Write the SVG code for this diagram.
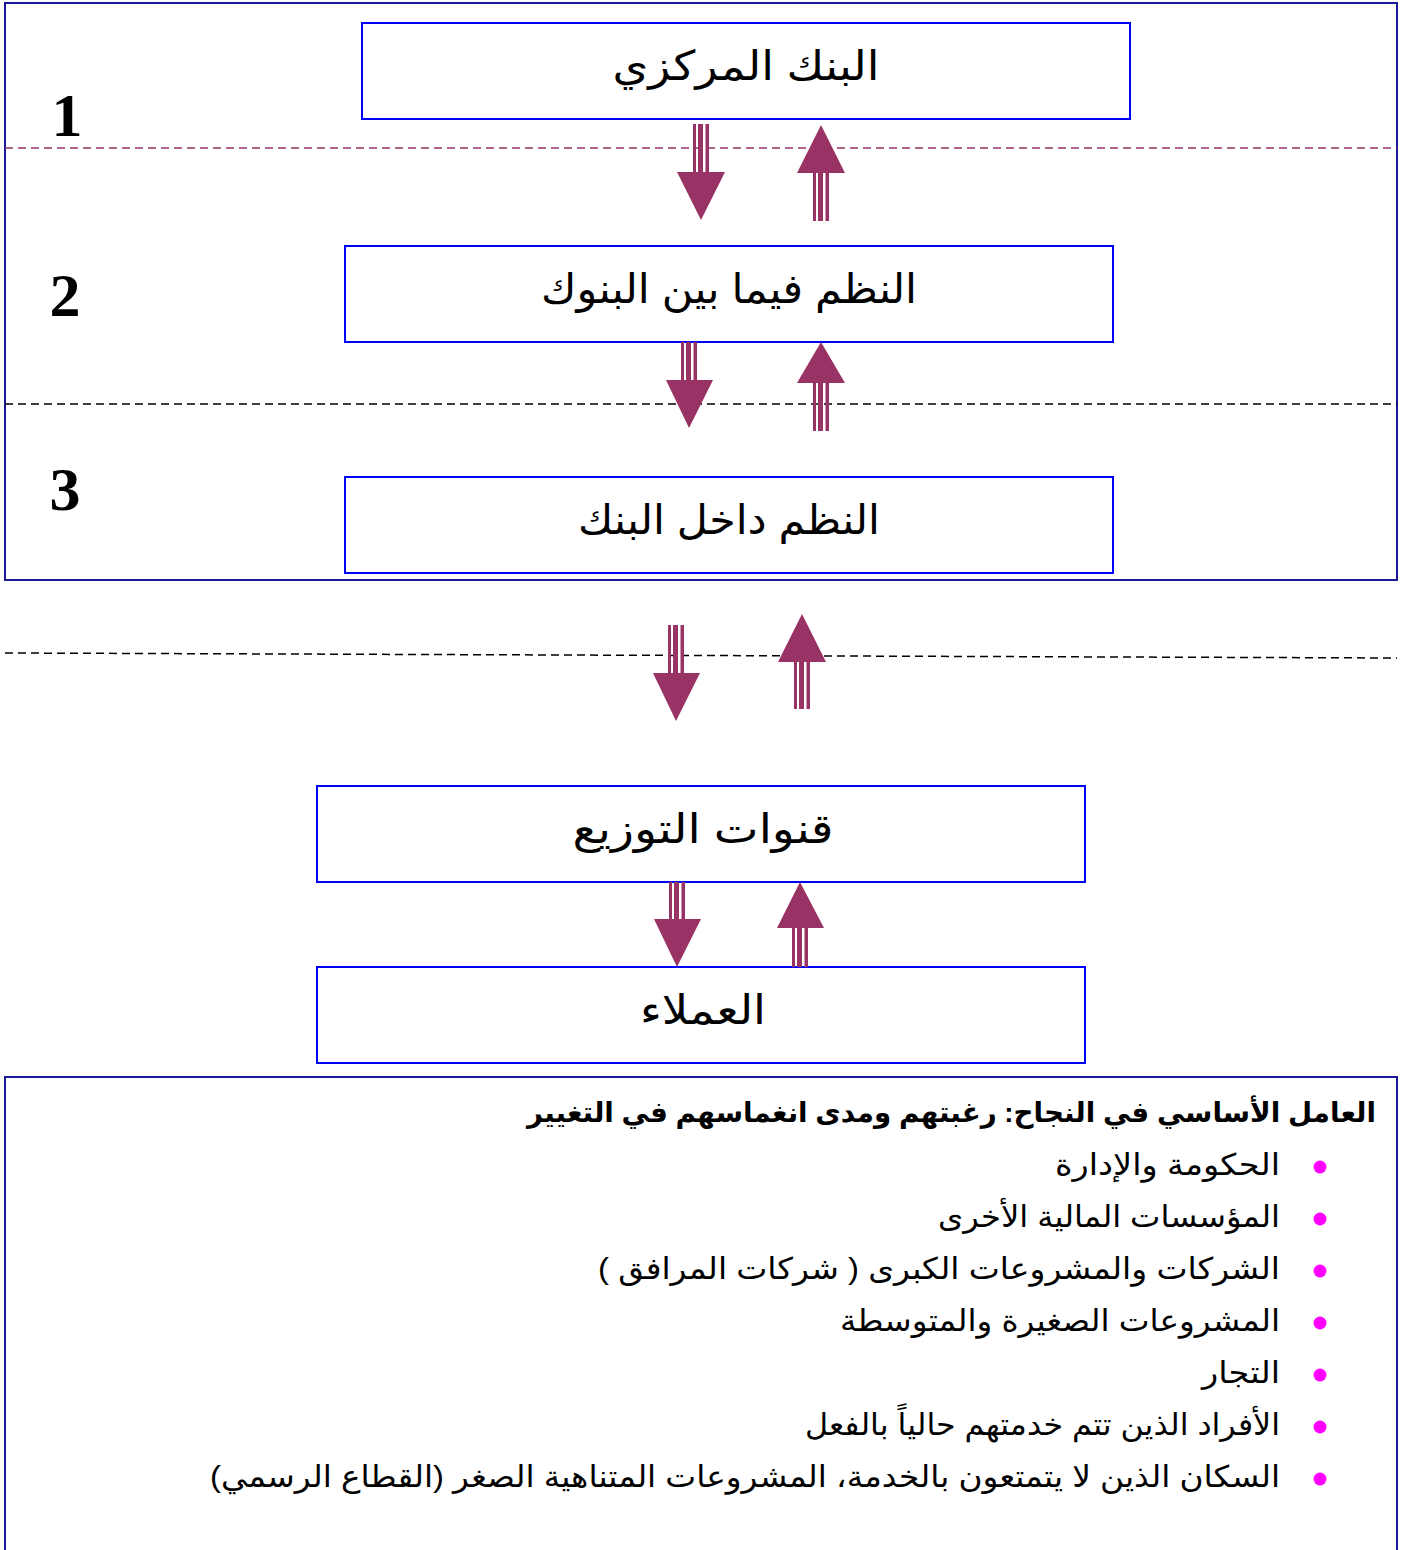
<svg xmlns="http://www.w3.org/2000/svg" width="1405" height="1550" viewBox="0 0 1405 1550">
<style>
.frame{fill:none;stroke:#1a1a99;stroke-width:2}
.box{fill:#fff;stroke:#0000ff;stroke-width:2}
.lbl{font-family:"Liberation Sans","DejaVu Sans",sans-serif;font-size:41px;fill:#000;text-anchor:middle}
.num{font-family:"Liberation Serif",serif;font-weight:bold;font-size:62px;fill:#000;text-anchor:middle}
.item{font-family:"Liberation Sans","DejaVu Sans",sans-serif;font-size:30px;fill:#000}
.title{font-family:"Liberation Sans","DejaVu Sans",sans-serif;font-size:28px;font-weight:bold;fill:#000}
.arr{fill:#993366}
.dot{fill:#ff00ff}
</style>
<defs>
<g id="shaft">
<rect x="0" y="0" width="3" height="1" class="arr"/>
<rect x="5" y="0" width="5" height="1" class="arr"/>
<rect x="12.5" y="0" width="3.5" height="1" class="arr"/>
</g>
</defs>
<rect x="0" y="0" width="1405" height="1550" fill="#fff"/>
<rect class="frame" x="5" y="3" width="1392" height="577"/>
<rect class="frame" x="5" y="1077" width="1392" height="480"/>

<g id="guides">
<line x1="5" y1="148" x2="1397" y2="148" stroke="#993366" stroke-width="1.6" stroke-dasharray="8,5"/>
<line x1="5" y1="404" x2="1397" y2="404" stroke="#000" stroke-width="1.5" stroke-dasharray="8,5"/>
<line x1="5" y1="653" x2="1397" y2="658" stroke="#000" stroke-width="1.5" stroke-dasharray="8,5"/>
</g>

<g id="levels">
<text class="num" x="67" y="136">1</text>
<text class="num" x="65" y="316">2</text>
<text class="num" x="65" y="510">3</text>
</g>

<g id="n1"><rect class="box" x="362" y="23" width="768" height="96"/><text class="lbl" x="746" y="80" textLength="267" lengthAdjust="spacingAndGlyphs">البنك المركزي</text></g>
<g id="n2"><rect class="box" x="345" y="246" width="768" height="96"/><text class="lbl" x="729" y="303" textLength="376" lengthAdjust="spacingAndGlyphs">النظم فيما بين البنوك</text></g>
<g id="n3"><rect class="box" x="345" y="477" width="768" height="96"/><text class="lbl" x="729" y="534" textLength="302" lengthAdjust="spacingAndGlyphs">النظم داخل البنك</text></g>
<g id="n4"><rect class="box" x="317" y="786" width="768" height="96"/><text class="lbl" x="703" y="843" textLength="261" lengthAdjust="spacingAndGlyphs">قنوات التوزيع</text></g>
<g id="n5"><rect class="box" x="317" y="967" width="768" height="96"/><text class="lbl" x="703" y="1024" textLength="126" lengthAdjust="spacingAndGlyphs">العملاء</text></g>

<g id="connectors">
<use href="#shaft" transform="translate(693,124) scale(1,48)"/>
<polygon class="arr" points="677,172 725,172 701,220"/>
<use href="#shaft" transform="translate(813,173) scale(1,48)"/>
<polygon class="arr" points="797,173 845,173 821,125"/>
<use href="#shaft" transform="translate(681,342) scale(1,38)"/>
<polygon class="arr" points="666,380 713,380 689,428"/>
<use href="#shaft" transform="translate(813,383) scale(1,48)"/>
<polygon class="arr" points="797,383 845,383 821,342"/>
<use href="#shaft" transform="translate(668,625) scale(1,48)"/>
<polygon class="arr" points="653,673 700,673 676,721"/>
<use href="#shaft" transform="translate(794,662) scale(1,47)"/>
<polygon class="arr" points="778,662 826,662 802,614"/>
<use href="#shaft" transform="translate(669,882) scale(1,37)"/>
<polygon class="arr" points="654,919 701,919 677,967"/>
<use href="#shaft" transform="translate(792,928) scale(1,39)"/>
<polygon class="arr" points="777,928 824,928 800,882"/>
</g>

<g id="factors">
<text class="title" x="1376" y="1122" direction="rtl" text-anchor="start" textLength="849" lengthAdjust="spacingAndGlyphs">العامل الأساسي في النجاح: رغبتهم ومدى انغماسهم في التغيير</text>
<circle class="dot" cx="1320" cy="1167" r="6.5"/>
<text class="item" x="1280" y="1175" direction="rtl" text-anchor="start" textLength="225" lengthAdjust="spacingAndGlyphs">الحكومة والإدارة</text>
<circle class="dot" cx="1320" cy="1219" r="6.5"/>
<text class="item" x="1280" y="1227" direction="rtl" text-anchor="start" textLength="342" lengthAdjust="spacingAndGlyphs">المؤسسات المالية الأخرى</text>
<circle class="dot" cx="1320" cy="1271" r="6.5"/>
<text class="item" x="1280" y="1279" direction="rtl" text-anchor="start" textLength="682" lengthAdjust="spacingAndGlyphs">الشركات والمشروعات الكبرى ( شركات المرافق )</text>
<circle class="dot" cx="1320" cy="1323" r="6.5"/>
<text class="item" x="1280" y="1331" direction="rtl" text-anchor="start" textLength="440" lengthAdjust="spacingAndGlyphs">المشروعات الصغيرة والمتوسطة</text>
<circle class="dot" cx="1320" cy="1375" r="6.5"/>
<text class="item" x="1280" y="1383" direction="rtl" text-anchor="start" textLength="78" lengthAdjust="spacingAndGlyphs">التجار</text>
<circle class="dot" cx="1320" cy="1427" r="6.5"/>
<text class="item" x="1280" y="1435" direction="rtl" text-anchor="start" textLength="475" lengthAdjust="spacingAndGlyphs">الأفراد الذين تتم خدمتهم حالياً بالفعل</text>
<circle class="dot" cx="1320" cy="1479" r="6.5"/>
<text class="item" x="1280" y="1487" direction="rtl" text-anchor="start" textLength="1070" lengthAdjust="spacingAndGlyphs">السكان الذين لا يتمتعون بالخدمة، المشروعات المتناهية الصغر (القطاع الرسمي)</text>
</g>
</svg>
